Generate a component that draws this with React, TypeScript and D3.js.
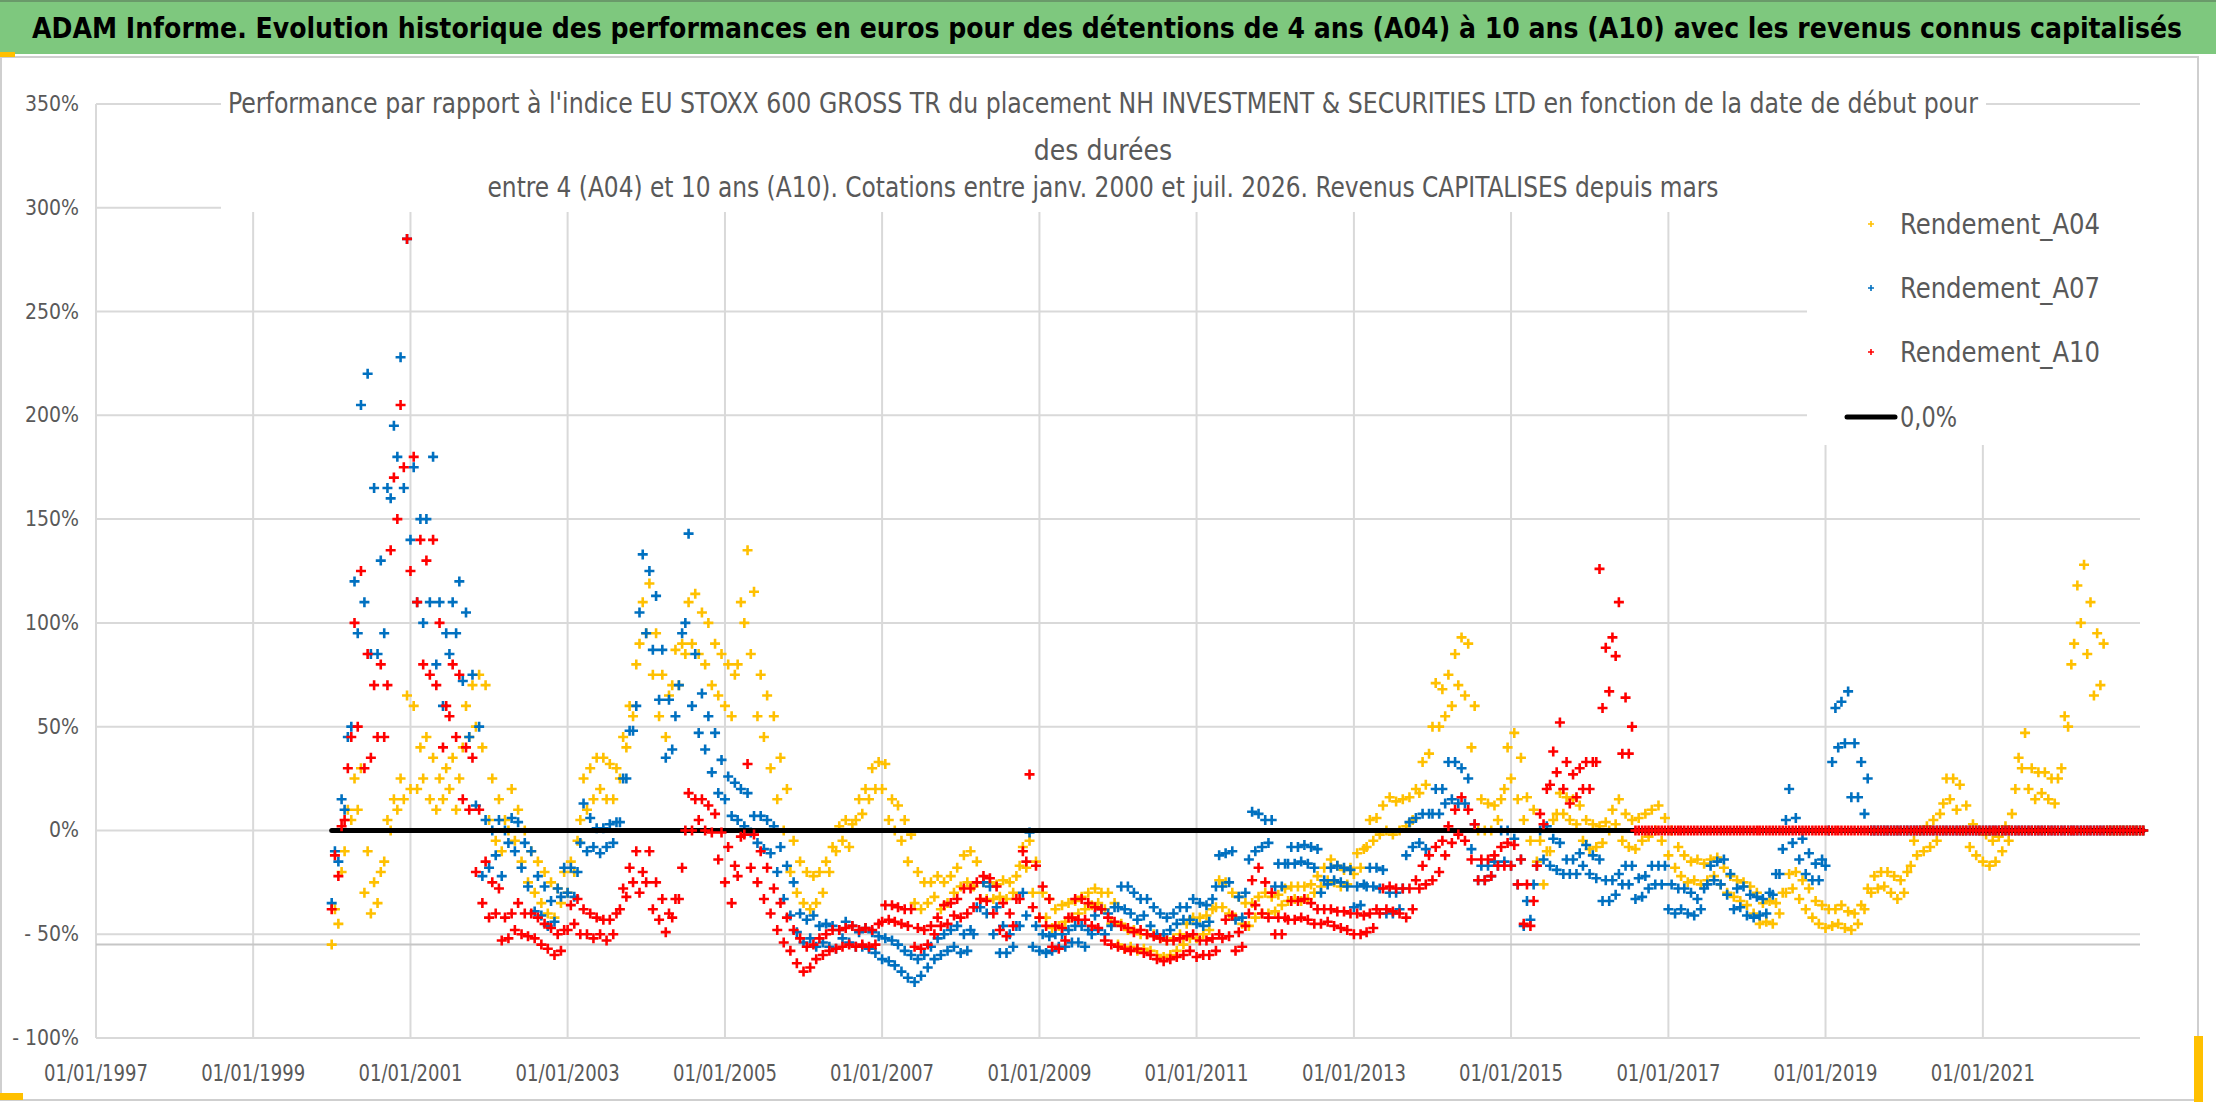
import React from 'react';
import * as d3 from 'd3';

const W = 2216;
const H = 1102;

// ---------- data (values in %, one low and one high reading per month, Jan 2000 .. Jan 2023) ----------
const FIRST_YEAR = 2000;

const A10_LOW = [
  -38,-22,5,45,50,30,35,45,45,135,150,175,
  125,110,80,75,70,40,55,45,15,10,-20,-35,
  -42,-40,-53,-52,-48,-50,-51,-52,-55,-57,-60,-58,
  -48,-45,-50,-50,-52,-50,-53,-50,-38,-32,-25,-30,
  -25,-38,-43,-49,-42,-33,0,0,5,0,-1,-14,
  -25,-35,-22,-2,-18,-25,-33,-40,-48,-54,-58,-64,
  -68,-66,-62,-60,-58,-57,-56,-55,-56,-55,-56,-55,
  -44,-43,-44,-45,-46,-56,-57,-55,-50,-46,-45,-41,
  -42,-40,-37,-33,-34,-40,-48,-51,-46,-33,-15,-37,
  -42,-46,-56,-57,-53,-42,-43,-43,-46,-47,-53,-55,
  -56,-57,-58,-57,-59,-60,-62,-63,-62,-61,-60,-58,
  -61,-60,-60,-58,-52,-51,-58,-56,-40,-36,-40,-42,
  -50,-50,-43,-43,-42,-43,-45,-45,-44,-46,-47,-48,
  -50,-50,-49,-47,-40,-38,-39,-40,-42,-38,-28,-26,
  -24,-20,-12,-6,-2,-5,-14,-24,-24,-22,-17,-17,
  -17,-26,-45,-46,-17,3,22,28,20,13,16,20,
  20,33,59,67,84,37,37,0,0,0,0,0,
  0,0,0,0,0,0,0,0,0,0,0,0,
  0,0,0,0,0,0,0,0,0,0,0,0,
  0,0,0,0,0,0,0,0,0,0,0,0,
  0,0,0,0,0,0,0,0,0,0,0,0,
  0,0,0,0,0,0,0,0,0,0,0,0,
  0,0,0,0,0,0,0,0,0,0,0,0,
  0,
];
const A10_HIGH = [
  -12,2,30,100,125,85,70,80,70,170,205,285,
  180,140,130,140,100,60,80,75,40,35,10,-15,
  -25,-28,-42,-40,-35,-40,-40,-42,-45,-47,-50,-48,
  -36,-33,-38,-40,-42,-43,-43,-40,-28,-18,-10,-20,
  -10,-25,-33,-40,-33,-18,18,15,15,12,8,-1,
  -8,-17,-3,32,-2,-10,-18,-28,-35,-42,-48,-52,
  -56,-55,-52,-50,-48,-48,-47,-46,-48,-47,-48,-45,
  -36,-36,-37,-38,-38,-47,-48,-46,-42,-36,-35,-33,
  -28,-28,-25,-22,-23,-27,-35,-40,-33,-10,27,-17,
  -27,-33,-46,-47,-42,-33,-33,-35,-37,-38,-42,-44,
  -46,-47,-49,-48,-50,-51,-52,-53,-53,-52,-51,-50,
  -53,-53,-52,-50,-43,-41,-49,-46,-24,-18,-25,-30,
  -42,-42,-34,-34,-33,-35,-38,-38,-38,-39,-39,-40,
  -40,-41,-40,-38,-28,-27,-28,-28,-28,-24,-17,-12,
  -8,-5,2,10,16,10,3,-14,-14,-12,-8,-6,
  -7,-14,-26,-34,8,20,38,52,33,27,30,33,
  33,126,88,93,110,64,50,0,0,0,0,0,
  0,0,0,0,0,0,0,0,0,0,0,0,
  0,0,0,0,0,0,0,0,0,0,0,0,
  0,0,0,0,0,0,0,0,0,0,0,0,
  0,0,0,0,0,0,0,0,0,0,0,0,
  0,0,0,0,0,0,0,0,0,0,0,0,
  0,0,0,0,0,0,0,0,0,0,0,0,
  0,
];

const A07_LOW = [
  -35,-15,10,50,95,110,85,85,95,160,180,165,
  140,110,100,110,80,60,85,95,72,45,12,-22,
  -18,-12,-22,-6,-10,-18,-27,-39,-41,-46,-44,-32,
  -30,-32,-6,-10,-8,-11,-8,-6,4,25,48,105,
  95,87,63,35,39,70,100,60,47,39,28,18,
  15,7,5,2,-1,-6,-9,-11,-20,-33,-41,-49,
  -54,-52,-56,-54,-56,-57,-52,-54,-56,-56,-57,-59,
  -62,-63,-65,-68,-71,-73,-70,-66,-62,-60,-58,-56,
  -59,-58,-50,-37,-40,-50,-59,-59,-56,-46,-41,-56,
  -58,-59,-58,-56,-56,-54,-54,-56,-50,-48,-50,-46,
  -37,-38,-40,-43,-41,-46,-50,-50,-48,-45,-43,-43,
  -45,-46,-44,-27,-27,-25,-43,-42,-14,-10,-8,-6,
  -27,-27,-16,-16,-15,-16,-18,-30,-26,-24,-25,-27,
  -37,-36,-27,-27,-28,-40,-40,-38,-12,-8,-6,-9,
  8,8,13,15,13,13,-9,-24,-24,-22,-17,-15,
  -17,-26,-46,-43,-17,-14,-17,-19,-21,-21,-21,-17,
  -21,-23,-34,-34,-31,-26,-26,-33,-32,-28,-26,-26,
  -38,-40,-38,-40,-41,-38,-26,-24,-26,-31,-38,-37,
  -41,-42,-41,-40,-31,-21,5,-6,-14,-21,-24,-24,
  -17,33,40,42,16,16,8,0,0,0,0,0,
  0,0,0,0,0,0,0,0,0,0,0,0,
  0,0,0,0,0,0,0,0,0,0,0,0,
  0,0,0,0,0,0,0,0,0,0,0,0,
  0,
];
const A07_HIGH = [
  -10,15,45,120,205,220,165,130,165,195,228,285,
  175,150,150,180,110,95,110,120,105,75,50,5,
  0,5,0,6,4,-6,-10,-22,-27,-34,-28,-18,
  -18,-20,13,6,1,1,3,4,25,48,60,133,
  125,113,87,63,55,95,143,85,66,55,47,34,
  26,23,20,18,7,7,5,2,-8,-17,-25,-40,
  -43,-41,-46,-45,-46,-48,-44,-46,-49,-47,-49,-51,
  -52,-53,-55,-58,-60,-62,-60,-56,-52,-50,-48,-46,
  -50,-48,-37,-25,-27,-37,-46,-50,-46,-30,-1,-46,
  -50,-51,-50,-50,-48,-46,-46,-48,-41,-38,-40,-37,
  -27,-27,-30,-33,-33,-37,-40,-42,-40,-37,-37,-33,
  -35,-36,-33,-12,-11,-10,-32,-30,9,8,5,5,
  -16,-16,-8,-8,-7,-8,-9,-24,-18,-17,-18,-19,
  -27,-26,-18,-18,-19,-30,-30,-28,4,6,8,8,
  20,20,33,33,30,25,3,-17,-17,-15,0,0,
  -4,-14,-34,-26,0,2,-4,-6,-14,-14,-11,-7,
  -12,-14,-24,-24,-21,-17,-17,-23,-22,-17,-17,-17,
  -26,-28,-28,-30,-33,-28,-17,-15,-14,-21,-28,-27,
  -31,-32,-33,-30,-21,-9,20,6,-4,-11,-16,-14,
  0,59,62,67,42,33,25,0,0,0,0,0,
  0,0,0,0,0,0,0,0,0,0,0,0,
  0,0,0,0,0,0,0,0,0,0,0,0,
  0,0,0,0,0,0,0,0,0,0,0,0,
  0,
];

const A04_LOW = [
  -55,-45,-10,5,10,-30,-40,-35,-15,0,10,15,
  20,20,25,15,10,15,20,10,40,45,50,40,
  5,-5,-10,0,-5,-15,-25,-30,-35,-40,-42,-35,
  -30,-20,5,10,15,20,15,15,25,40,55,90,
  95,75,55,45,70,70,85,90,85,80,70,65,
  60,55,80,100,85,55,45,30,15,0,-20,-30,
  -35,-38,-35,-30,-20,-10,-5,-8,5,8,15,20,
  20,5,0,-5,-15,-35,-38,-35,-32,-38,-35,-30,
  -27,-25,-27,-33,-33,-33,-32,-33,-30,-17,-18,-30,
  -42,-42,-47,-46,-44,-42,-40,-38,-36,-35,-38,-45,
  -55,-57,-56,-58,-57,-58,-60,-61,-60,-58,-55,-52,
  -52,-50,-48,-37,-37,-40,-42,-45,-46,-42,-40,-40,
  -39,-36,-34,-33,-34,-33,-30,-27,-24,-25,-27,-26,
  -21,-18,-8,-5,-2,0,-2,0,2,5,18,22,
  50,50,55,60,70,65,40,0,0,0,5,20,
  25,15,5,-5,-15,-26,-10,8,8,5,3,-5,
  -9,-8,-6,0,3,-5,-8,-9,-5,-3,0,-5,
  -12,-18,-22,-25,-24,-26,-24,-22,-26,-30,-32,-34,
  -36,-40,-45,-44,-45,-40,-30,-28,-33,-38,-42,-45,
  -47,-46,-45,-47,-48,-45,-38,-30,-28,-27,-30,-33,
  -30,-17,-12,-10,-8,-5,13,15,10,0,-8,-12,
  -15,-17,-15,-10,-5,20,30,20,15,18,15,13,
  30,50,90,100,85,65,70,0,0,0,0,0,
  0,
];
const A04_HIGH = [
  -38,-20,10,25,30,-10,-25,-20,5,15,25,65,
  60,40,45,35,25,30,35,25,60,70,75,70,
  25,15,5,20,10,0,-10,-15,-20,-25,-28,-20,
  -15,-5,25,30,35,35,32,30,45,60,80,110,
  119,95,75,65,87,90,110,114,105,100,90,85,
  80,75,110,135,115,75,65,55,35,20,-5,-15,
  -20,-22,-20,-15,-8,2,5,3,15,20,30,33,
  32,15,12,5,-2,-20,-25,-25,-22,-25,-22,-18,
  -12,-10,-15,-25,-25,-26,-24,-25,-22,-8,-5,-15,
  -30,-33,-38,-36,-35,-34,-32,-30,-28,-30,-30,-35,
  -45,-48,-48,-50,-50,-50,-52,-53,-52,-50,-45,-42,
  -42,-41,-38,-24,-25,-30,-32,-35,-35,-32,-30,-32,
  -31,-28,-27,-27,-27,-26,-22,-18,-14,-17,-19,-18,
  -11,-9,5,6,12,16,14,15,16,20,33,37,
  71,68,75,85,93,90,60,15,13,12,15,40,
  47,35,16,10,-5,-10,5,18,16,15,12,5,
  3,2,4,10,15,8,5,6,8,10,12,6,
  0,-8,-12,-15,-14,-16,-14,-13,-18,-22,-24,-25,
  -27,-30,-35,-34,-35,-30,-21,-20,-24,-28,-34,-36,
  -38,-38,-36,-39,-40,-36,-28,-22,-20,-20,-22,-24,
  -20,-5,0,2,5,8,25,25,22,12,3,0,
  -2,-5,-3,2,8,35,47,30,28,28,25,25,
  55,80,118,128,110,95,90,0,0,0,0,0,
  0,
];

const SERIES_NAMES = ['Rendement_A04', 'Rendement_A07', 'Rendement_A10'];
const SERIES_COLORS = ['#FFC000', '#0070C0', '#FF0000'];
const ZERO_LINE_LABEL = '0,0%';
const ZERO_LINE_VALUE = 0;
const REF_LINE_VALUE = -55;

const X_TICK_YEARS = [1997, 1999, 2001, 2003, 2005, 2007, 2009, 2011, 2013, 2015, 2017, 2019, 2021];
const X_DOMAIN_YEARS = [1997, 2023];
const Y_TICKS = [-100, -50, 0, 50, 100, 150, 200, 250, 300, 350];
const Y_LABELS = ['- 100%', '- 50%', '0%', '50%', '100%', '150%', '200%', '250%', '300%', '350%'];

const TITLE = 'ADAM Informe. Evolution historique des performances en euros pour des détentions de 4 ans (A04) à 10 ans (A10) avec les revenus connus capitalisés';
const SUB1 = "Performance par rapport à l'indice EU STOXX 600 GROSS TR  du placement NH INVESTMENT & SECURITIES LTD en fonction de la date de début pour";
const SUB2 = 'des durées';
const SUB3 = 'entre 4 (A04) et 10 ans (A10). Cotations entre janv. 2000 et juil. 2026. Revenus CAPITALISES depuis mars';

const FONT = "'Liberation Sans Narrow', 'DejaVu Sans Condensed', 'Arial Narrow', sans-serif";
const GREY_TEXT = '#595959';
const GRID = '#d9d9d9';

// ---------- layout ----------
const PLOT = { left: 96, right: 2140, top: 104, bottom: 1038 };

export default function App() {
  const x = d3
    .scaleTime()
    .domain([new Date(X_DOMAIN_YEARS[0], 0, 1), new Date(X_DOMAIN_YEARS[1], 0, 1)])
    .range([PLOT.left, PLOT.right]);
  const y = d3.scaleLinear().domain([-100, 350]).range([PLOT.bottom, PLOT.top]);

  const plusPath = (lows: number[], highs: number[], arm: number) => {
    const p = d3.path();
    lows.forEach((v, i) => {
      const pts: [Date, number][] = [
        [new Date(FIRST_YEAR, i, 1), v],
        [new Date(FIRST_YEAR, i, 16), highs[i]],
      ];
      pts.forEach(([d, val]) => {
        const cx = x(d);
        const cy = y(val);
        p.moveTo(cx - arm, cy);
        p.lineTo(cx + arm, cy);
        p.moveTo(cx, cy - arm);
        p.lineTo(cx, cy + arm);
      });
    });
    return p.toString();
  };

  const series = [
    { lows: A04_LOW, highs: A04_HIGH },
    { lows: A07_LOW, highs: A07_HIGH },
    { lows: A10_LOW, highs: A10_HIGH },
  ];

  const zeroStart = new Date(FIRST_YEAR, 0, 1);
  const zeroEnd = new Date(FIRST_YEAR, A10_LOW.length - 1, 16);

  const legendY = [224, 288, 352, 417];
  const legendMarkX = 1871;
  const legendTextX = 1900;
  const ARM = 5;
  const STROKE = 2.6;

  return (
    <svg
      width={W}
      height={H}
      viewBox={`0 0 ${W} ${H}`}
      style={{ position: 'absolute', left: 0, top: 0, background: '#fff' }}
    >
      <rect x={0} y={0} width={W} height={H} fill="#fff" />
      {/* chart area border */}
      <rect x={1} y={57} width={2197} height={1043} fill="none" stroke="#cfcfcf" strokeWidth={2} />

      {/* gridlines */}
      {Y_TICKS.map((t) => (
        <line key={'h' + t} x1={PLOT.left} x2={PLOT.right} y1={y(t)} y2={y(t)} stroke={GRID} strokeWidth={2} />
      ))}
      {X_TICK_YEARS.map((yr) => (
        <line
          key={'v' + yr}
          x1={x(new Date(yr, 0, 1))}
          x2={x(new Date(yr, 0, 1))}
          y1={PLOT.top}
          y2={PLOT.bottom}
          stroke={GRID}
          strokeWidth={2}
        />
      ))}
      <line x1={PLOT.left} x2={PLOT.right} y1={y(REF_LINE_VALUE)} y2={y(REF_LINE_VALUE)} stroke="#c6c6c6" strokeWidth={2} />

      {/* series A04 and A07 */}
      {series.slice(0, 2).map((s, i) => (
        <path key={SERIES_NAMES[i]} d={plusPath(s.lows, s.highs, ARM)} stroke={SERIES_COLORS[i]} strokeWidth={STROKE} fill="none" />
      ))}
      {/* zero line */}
      <line
        x1={x(zeroStart)}
        x2={x(zeroEnd)}
        y1={y(ZERO_LINE_VALUE)}
        y2={y(ZERO_LINE_VALUE)}
        stroke="#000"
        strokeWidth={5}
        strokeLinecap="round"
      />
      {/* series A10 */}
      <path d={plusPath(series[2].lows, series[2].highs, ARM)} stroke={SERIES_COLORS[2]} strokeWidth={STROKE} fill="none" />

      {/* y labels */}
      {Y_TICKS.map((t, i) => (
        <text key={'yl' + t} x={79} y={y(t) + 7} textAnchor="end" fontFamily={FONT} fontSize={21} fill={GREY_TEXT}>
          {Y_LABELS[i]}
        </text>
      ))}
      {/* x labels */}
      {X_TICK_YEARS.map((yr) => (
        <text
          key={'xl' + yr}
          x={x(new Date(yr, 0, 1))}
          y={1081}
          textAnchor="middle"
          fontFamily={FONT}
          fontSize={23}
          fill={GREY_TEXT}
          textLength={104}
          lengthAdjust="spacingAndGlyphs"
        >
          {`01/01/${yr}`}
        </text>
      ))}

      {/* chart title box */}
      <rect x={221} y={60} width={1765} height={152} fill="#fff" />
      <text x={1103} y={113} textAnchor="middle" fontFamily={FONT} fontSize={28} fill={GREY_TEXT} textLength={1750} lengthAdjust="spacingAndGlyphs">
        {SUB1}
      </text>
      <text x={1103} y={160} textAnchor="middle" fontFamily={FONT} fontSize={28} fill={GREY_TEXT}>
        {SUB2}
      </text>
      <text x={1103} y={197} textAnchor="middle" fontFamily={FONT} fontSize={28} fill={GREY_TEXT} textLength={1231} lengthAdjust="spacingAndGlyphs">
        {SUB3}
      </text>

      {/* legend */}
      <rect x={1807} y={200} width={333} height={245} fill="#fff" />
      {SERIES_NAMES.map((name, i) => (
        <g key={'lg' + name}>
          <path
            d={`M${legendMarkX - 3},${legendY[i]}h6M${legendMarkX},${legendY[i] - 3}v6`}
            stroke={SERIES_COLORS[i]}
            strokeWidth={1.6}
          />
          <text x={legendTextX} y={legendY[i] + 10} fontFamily={FONT} fontSize={28} fill={GREY_TEXT} textLength={200} lengthAdjust="spacingAndGlyphs">
            {name}
          </text>
        </g>
      ))}
      <line x1={1847} x2={1895} y1={legendY[3]} y2={legendY[3]} stroke="#000" strokeWidth={5} strokeLinecap="round" />
      <text x={legendTextX} y={legendY[3] + 10} fontFamily={FONT} fontSize={28} fill={GREY_TEXT} textLength={57} lengthAdjust="spacingAndGlyphs">
        {ZERO_LINE_LABEL}
      </text>

      {/* banner */}
      <rect x={0} y={0} width={W} height={54} fill="#7ec87e" />
      <line x1={0} x2={W} y1={1} y2={1} stroke="#6a9a6a" strokeWidth={2} />
      <text
        x={1107}
        y={38}
        textAnchor="middle"
        fontFamily={FONT}
        fontWeight="bold"
        fontSize={28}
        fill="#000"
        textLength={2150}
        lengthAdjust="spacingAndGlyphs"
      >
        {TITLE}
      </text>
      {/* selection marks */}
      <rect x={0} y={52} width={15} height={5} fill="#FFC000" />
      <rect x={0} y={1093} width={23} height={7} fill="#FFC000" />
      <rect x={2194} y={1036} width={9} height={66} fill="#FFC000" />
    </svg>
  );
}
